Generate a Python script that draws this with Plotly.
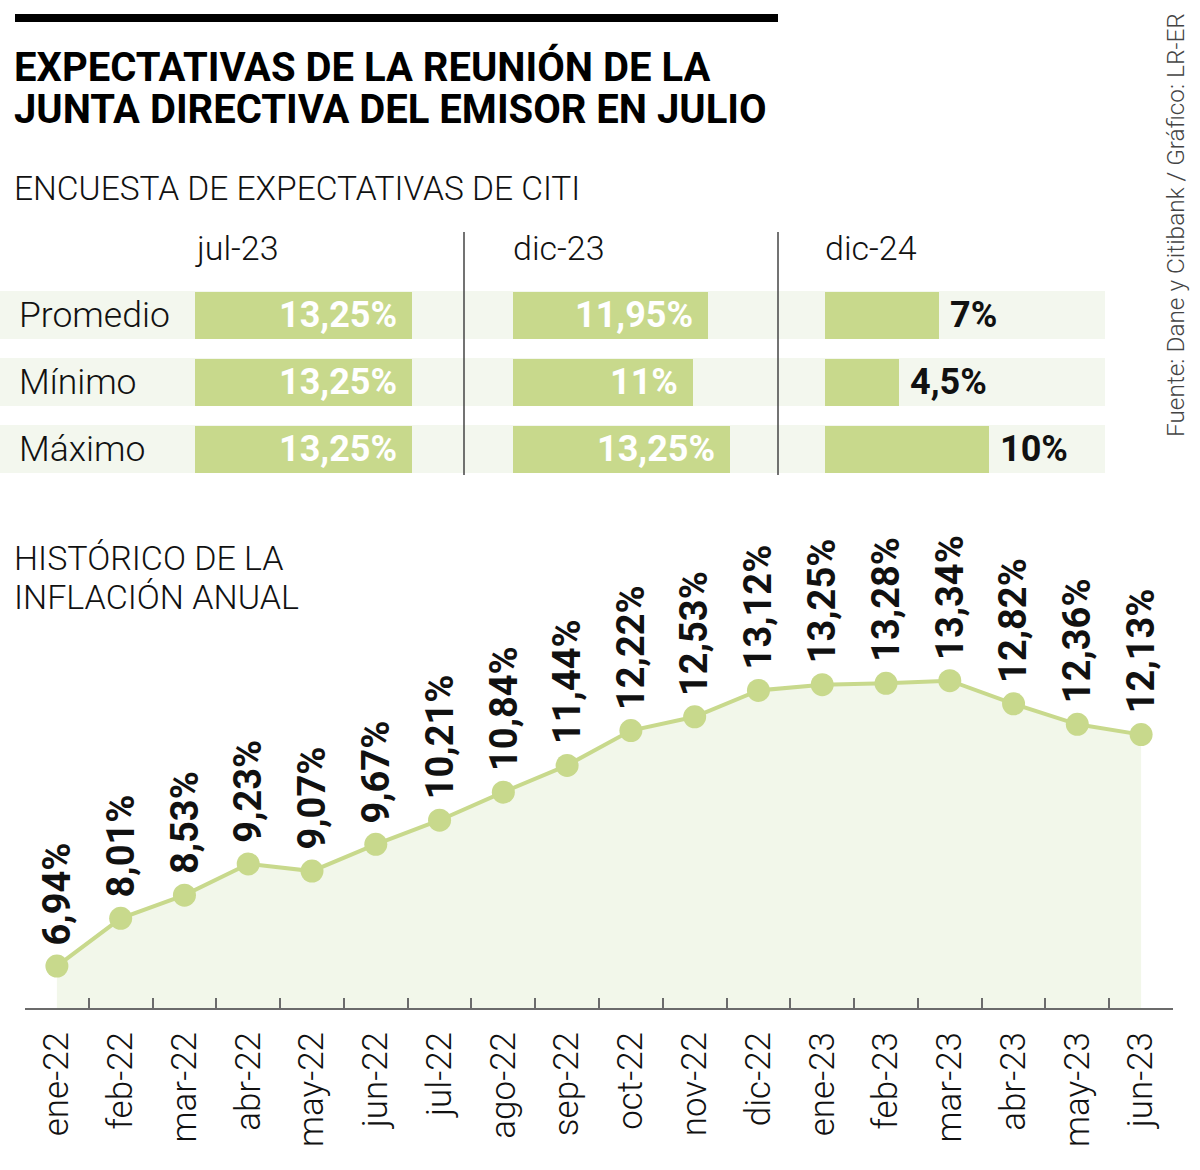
import plotly.graph_objects as go

W, H = 1200, 1170

# ---------------- data ----------------
months = ["ene-22", "feb-22", "mar-22", "abr-22", "may-22", "jun-22", "jul-22", "ago-22",
          "sep-22", "oct-22", "nov-22", "dic-22", "ene-23", "feb-23", "mar-23", "abr-23",
          "may-23", "jun-23"]
inflation = [6.94, 8.01, 8.53, 9.23, 9.07, 9.67, 10.21, 10.84, 11.44, 12.22, 12.53, 13.12,
             13.25, 13.28, 13.34, 12.82, 12.36, 12.13]

survey_rows = ["Promedio", "Mínimo", "Máximo"]
survey_periods = ["jul-23", "dic-23", "dic-24"]
jul23 = [13.25, 13.25, 13.25]
dic23 = [11.95, 11, 13.25]
dic24 = [7, 4.5, 10]

title_lines = ["EXPECTATIVAS DE LA REUNIÓN DE LA", "JUNTA DIRECTIVA DEL EMISOR EN JULIO"]
subtitle = "ENCUESTA DE EXPECTATIVAS DE CITI"
hist_lines = ["HISTÓRICO DE LA", "INFLACIÓN ANUAL"]
source = "Fuente: Dane y Citibank / Gráfico: LR-ER"

# ---------------- styling ----------------
GREEN = "#c8d98c"
FILL = "#f2f7ea"
BAND = "#f3f7ee"
LIGHT = "Roboto"
BOLD = "Roboto"


def px_x(v):
    return v / W


def px_y(v):
    return 1 - v / H


def fmt(v):
    return f"{v:g}".replace(".", ",") + "%"


fig = go.Figure()

# ---------------- line chart ----------------
fig.add_trace(go.Scatter(
    x=months, y=inflation, mode="lines+markers",
    line=dict(color=GREEN, width=4),
    marker=dict(color=GREEN, size=23),
    fill="tozeroy", fillcolor=FILL,
    cliponaxis=False, hoverinfo="skip", showlegend=False,
    xaxis="x", yaxis="y",
))

annotations = []
for m, v in zip(months, inflation):
    annotations.append(dict(
        x=m, y=v, xref="x", yref="y", text=fmt(v), showarrow=False,
        textangle=-90, xanchor="center", yanchor="bottom", yshift=19,
        font=dict(family=BOLD, size=38, color="#111111", weight=700),
    ))

# ---------------- survey bars ----------------
periods_vals = [jul23, dic23, dic24]
axis_names = ["x2", "x3", "x4"]
col_left = [195, 513, 825]
scale = 16.35  # px per unit
dom_w = 260
for i, (vals, xa) in enumerate(zip(periods_vals, axis_names)):
    fig.add_trace(go.Bar(
        x=vals, y=survey_rows, orientation="h", width=0.716,
        marker=dict(color=GREEN, line=dict(width=0)),
        xaxis=xa, yaxis="y2", hoverinfo="skip", showlegend=False,
    ))
    for r, v in zip(survey_rows, vals):
        outside = i == 2
        annotations.append(dict(
            x=v, y=r, xref=xa, yref="y2", text=fmt(v), showarrow=False,
            xanchor="left" if outside else "right",
            xshift=9 if outside else -13, yanchor="middle",
            font=dict(family=BOLD, size=36, color="#111111" if outside else "white", weight=700),
        ))
    annotations.append(dict(
        x=px_x(col_left[i] - 2), y=px_y(248), xref="paper", yref="paper",
        text=survey_periods[i], showarrow=False, xanchor="left", yanchor="middle",
        font=dict(family=LIGHT, size=34, color="#111111", weight=300),
    ))

for r in survey_rows:
    annotations.append(dict(
        x=px_x(17), y=r, xref="paper", yref="y2", text=r, showarrow=False,
        xanchor="left", yanchor="middle",
        font=dict(family=LIGHT, size=35.5, color="#111111", weight=300),
    ))

# ---------------- texts ----------------
for t, yc in zip(title_lines, [67, 109]):
    annotations.append(dict(
        x=px_x(12), y=px_y(yc), xref="paper", yref="paper", text=t, showarrow=False,
        xanchor="left", yanchor="middle",
        font=dict(family=BOLD, size=40, color="#000000", weight=700),
    ))
annotations.append(dict(
    x=px_x(12), y=px_y(189), xref="paper", yref="paper", text=subtitle, showarrow=False,
    xanchor="left", yanchor="middle",
    font=dict(family=LIGHT, size=33.5, color="#111111", weight=300),
))
for t, yc in zip(hist_lines, [558, 597]):
    annotations.append(dict(
        x=px_x(12), y=px_y(yc), xref="paper", yref="paper", text=t, showarrow=False,
        xanchor="left", yanchor="middle",
        font=dict(family=LIGHT, size=34, color="#111111", weight=300),
    ))
annotations.append(dict(
    x=px_x(1176), y=px_y(225), xref="paper", yref="paper", text=source, showarrow=False,
    textangle=-90, xanchor="center", yanchor="middle",
    font=dict(family=LIGHT, size=24.4, color="#444444", weight=300),
))

# ---------------- shapes ----------------
shapes = [
    dict(type="rect", xref="paper", yref="paper", x0=px_x(15), x1=px_x(778),
         y0=px_y(22), y1=px_y(14), fillcolor="#000000", line=dict(width=0)),
    dict(type="line", xref="paper", yref="paper", x0=px_x(464), x1=px_x(464),
         y0=px_y(475), y1=px_y(232), line=dict(color="#444444", width=1.5)),
    dict(type="line", xref="paper", yref="paper", x0=px_x(778), x1=px_x(778),
         y0=px_y(475), y1=px_y(232), line=dict(color="#444444", width=1.5)),
]
for i, r in enumerate(survey_rows):
    shapes.append(dict(type="rect", xref="paper", yref="y2", x0=0, x1=px_x(1105),
                       y0=i - 0.358, y1=i + 0.358, fillcolor=BAND,
                       line=dict(width=0), layer="below"))

hidden = dict(showgrid=False, zeroline=False, showticklabels=False, showline=False,
              ticks="", fixedrange=True)

layout = dict(
    width=W, height=H, margin=dict(l=0, r=0, t=0, b=0),
    paper_bgcolor="white", plot_bgcolor="rgba(0,0,0,0)",
    showlegend=False, bargap=0,
    annotations=annotations, shapes=shapes,
    xaxis=dict(domain=[px_x(25), px_x(1173)], type="category", range=[-0.5, 17.5],
               showgrid=False, zeroline=False, showline=True, linecolor="#6b6b6b",
               linewidth=2, ticks="inside", tickson="boundaries", ticklen=10,
               tickwidth=2, tickcolor="#6b6b6b", tickangle=-90,
               ticklabelstandoff=8,
               tickfont=dict(family=LIGHT, size=35, color="#111111", weight=300),
               fixedrange=True),
    yaxis=dict(domain=[px_y(1008), px_y(540)], range=[6, 6 + (1008 - 540) / 44.6],
               **hidden),
    yaxis2=dict(domain=[px_y(482.5), px_y(281.5)], type="category",
                categoryorder="array", categoryarray=survey_rows,
                range=[2.5, -0.5], **hidden),
)
for i, xa in enumerate(axis_names):
    key = "xaxis" + xa[1:]
    layout[key] = dict(domain=[px_x(col_left[i]), px_x(col_left[i] + dom_w)],
                       range=[0, dom_w / scale], anchor="y2", **hidden)

fig.update_layout(**layout)
fig.write_html("out.html", config={"displayModeBar": False},
               post_script="document.body.style.margin='0px';document.body.style.overflow='hidden';")
